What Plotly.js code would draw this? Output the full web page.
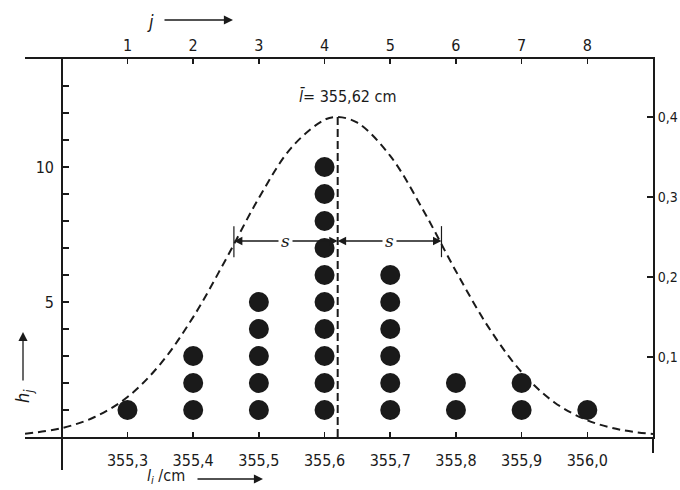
<!DOCTYPE html>
<html>
<head>
<meta charset="utf-8">
<script src="https://cdn.plot.ly/plotly-3.0.1.min.js"></script>
<style>html,body{margin:0;padding:0;background:#fff;}#chart{width:680px;height:490px;}</style>
</head>
<body>
<div id="chart"></div>
<script>
// ---- data ----
const lengths = [355.3, 355.4, 355.5, 355.6, 355.7, 355.8, 355.9, 356.0];   // l_i / cm
const counts  = [1, 3, 5, 10, 6, 2, 2, 1];                                   // h_j
const lengthTickText = ['355,3','355,4','355,5','355,6','355,7','355,8','355,9','356,0'];
const jTickText = ['1','2','3','4','5','6','7','8'];
const hTickVals = [0,1,2,3,4,5,6,7,8,9,10,11,12,13];
const hTickText = ['','','','','','5','','','','','10','','',''];
const probTickVals = [0.1, 0.2, 0.3, 0.4];
const probTickText = ['0,1','0,2','0,3','0,4'];
// dashed bell curve
const curveX = [355.144,355.20,355.25,355.30,355.35,355.40,355.45,355.50,355.55,355.60,355.62,355.65,355.70,355.75,355.80,355.85,355.90,355.95,356.00,356.05,356.10];
const curveH = [0.12,0.33,0.74,1.48,2.70,4.44,6.59,8.85,10.73,11.75,11.85,11.64,10.41,8.41,6.14,4.05,2.40,1.28,0.62,0.27,0.11];
const meanL = 355.62;
const sDev = 0.158;
const sLevel = 7.26;
const peakH = 11.85;

// ---- build dots ----
const dotX = [], dotY = [];
lengths.forEach((l, i) => { for (let k = 1; k <= counts[i]; k++) { dotX.push(l); dotY.push(k); } });

const ink = '#1a1a1a';
const tf = {family: 'DejaVu Sans Condensed, Liberation Sans Narrow, sans-serif', size: 16, color: ink};
const tfRight = {family: 'DejaVu Sans Condensed, Liberation Sans Narrow, sans-serif', size: 14, color: ink};
const W = 628, H = 378, L = 25, T = 59;
const px = v => (v - L) / W;
const py = v => (T + H - v) / H;

const traces = [
  {x: curveX, y: curveH, mode: 'lines', line: {color: ink, width: 2, dash: '8px,5px', shape: 'spline'}, hoverinfo: 'skip', showlegend: false},
  {x: dotX, y: dotY, mode: 'markers', marker: {color: ink, size: 20, symbol: 'circle'}, showlegend: false},
  {x: [meanL], y: [0.1], xaxis: 'x2', yaxis: 'y2', mode: 'markers', marker: {opacity: 0}, hoverinfo: 'skip', showlegend: false}
];

const labFont = {family: 'DejaVu Sans Condensed, sans-serif', size: 18, color: ink};

const layout = {
  width: 680, height: 490,
  margin: {l: L, r: 680 - L - W, t: T, b: 490 - T - H},
  paper_bgcolor: '#fff', plot_bgcolor: '#fff',
  showlegend: false,
  xaxis: {range: [355.144, 356.1], tickvals: lengths, ticktext: lengthTickText, ticks: 'inside', ticklen: 5, tickwidth: 1.5, tickcolor: ink,
          showline: true, linewidth: 2, linecolor: ink, showgrid: false, zeroline: false, tickfont: tf, ticklabelstandoff: 8, fixedrange: true},
  xaxis2: {overlaying: 'x', side: 'top', anchor: 'y', range: [355.144, 356.1], tickvals: lengths, ticktext: jTickText, ticks: 'inside', ticklen: 5, tickwidth: 1.5, tickcolor: ink,
          showline: true, linewidth: 2, linecolor: ink, showgrid: false, zeroline: false, tickfont: tf, ticklabelstandoff: 0},
  yaxis: {range: [0, 14], anchor: 'free', position: px(62), tickvals: hTickVals, ticktext: hTickText, ticks: 'inside', ticklen: 6, tickwidth: 1.5, tickcolor: ink,
          showline: false, showgrid: false, zeroline: false, tickfont: tf, ticklabelstandoff: 8},
  yaxis2: {overlaying: 'y', side: 'right', anchor: 'x', range: [0, 0.4725], tickvals: probTickVals, ticktext: probTickText, ticks: 'inside', ticklen: 6, tickwidth: 1.5, tickcolor: ink,
          showline: true, linewidth: 2, linecolor: ink, showgrid: false, zeroline: false, tickfont: tfRight, ticklabelstandoff: 0},
  shapes: [
    {type: 'line', xref: 'paper', yref: 'paper', x0: px(62), x1: px(62), y0: py(470), y1: 1, line: {color: ink, width: 2}},
    {type: 'line', xref: 'paper', yref: 'paper', x0: 1, x1: 1, y0: py(453), y1: 0, line: {color: ink, width: 2}},
    {type: 'line', xref: 'x', yref: 'y', x0: meanL, x1: meanL, y0: 0, y1: peakH + 0.1, line: {color: ink, width: 2, dash: '8px,4px'}},
    {type: 'line', xref: 'x', yref: 'y', x0: meanL - sDev, x1: meanL - sDev, y0: sLevel - 0.6, y1: sLevel + 0.55, line: {color: ink, width: 1.2}},
    {type: 'line', xref: 'x', yref: 'y', x0: meanL + sDev, x1: meanL + sDev, y0: sLevel - 0.6, y1: sLevel + 0.55, line: {color: ink, width: 1.2}}
  ],
  annotations: [
    // s arrows
    {x: meanL - sDev, y: sLevel, ax: meanL - sDev / 2, ay: sLevel, xref: 'x', yref: 'y', axref: 'x', ayref: 'y', text: '', showarrow: true, arrowhead: 2, arrowsize: 1.3, arrowwidth: 1.3, arrowcolor: ink},
    {x: meanL, y: sLevel, ax: meanL - sDev / 2, ay: sLevel, xref: 'x', yref: 'y', axref: 'x', ayref: 'y', text: '', showarrow: true, arrowhead: 2, arrowsize: 1.3, arrowwidth: 1.3, arrowcolor: ink},
    {x: meanL, y: sLevel, ax: meanL + sDev / 2, ay: sLevel, xref: 'x', yref: 'y', axref: 'x', ayref: 'y', text: '', showarrow: true, arrowhead: 2, arrowsize: 1.3, arrowwidth: 1.3, arrowcolor: ink},
    {x: meanL + sDev, y: sLevel, ax: meanL + sDev / 2, ay: sLevel, xref: 'x', yref: 'y', axref: 'x', ayref: 'y', text: '', showarrow: true, arrowhead: 2, arrowsize: 1.3, arrowwidth: 1.3, arrowcolor: ink},
    {x: meanL - sDev / 2, y: sLevel, xref: 'x', yref: 'y', text: '<i>s</i>', showarrow: false, bgcolor: '#fff', font: {family: 'DejaVu Serif, serif', size: 17, color: ink}, borderpad: 2},
    {x: meanL + sDev / 2, y: sLevel, xref: 'x', yref: 'y', text: '<i>s</i>', showarrow: false, bgcolor: '#fff', font: {family: 'DejaVu Serif, serif', size: 17, color: ink}, borderpad: 2},
    // mean label
    {x: meanL + 0.016, y: 12.6, xref: 'x', yref: 'y', xanchor: 'center', yanchor: 'middle', text: '<i>l\u0304</i>= 355,62 cm', showarrow: false, font: tf},
    // axis titles
    {x: px(150), y: py(21), xref: 'paper', yref: 'paper', xanchor: 'center', yanchor: 'middle', text: '<i>j</i>', showarrow: false, font: labFont},
    {x: px(233), y: py(20), xref: 'paper', yref: 'paper', ax: -70, ay: 0, text: '', showarrow: true, arrowhead: 2, arrowsize: 1.4, arrowwidth: 1.3, arrowcolor: ink},
    {x: px(24), y: py(396), xref: 'paper', yref: 'paper', xanchor: 'center', yanchor: 'middle', text: '<i>h</i><sub><i>j</i></sub>', textangle: -90, showarrow: false, font: labFont},
    {x: px(23), y: py(332), xref: 'paper', yref: 'paper', ax: 0, ay: 50, text: '', showarrow: true, arrowhead: 2, arrowsize: 1.4, arrowwidth: 1.3, arrowcolor: ink},
    {x: px(166), y: py(476), xref: 'paper', yref: 'paper', xanchor: 'center', yanchor: 'middle', text: '<i>l</i><sub><i>i</i></sub> /cm', showarrow: false, font: {family: 'DejaVu Sans Condensed, sans-serif', size: 16, color: ink}},
    {x: px(263), y: py(479), xref: 'paper', yref: 'paper', ax: -67, ay: 0, text: '', showarrow: true, arrowhead: 2, arrowsize: 1.4, arrowwidth: 1.3, arrowcolor: ink}
  ]
};

Plotly.newPlot('chart', traces, layout, {staticPlot: true, displayModeBar: false});
</script>
</body>
</html>
